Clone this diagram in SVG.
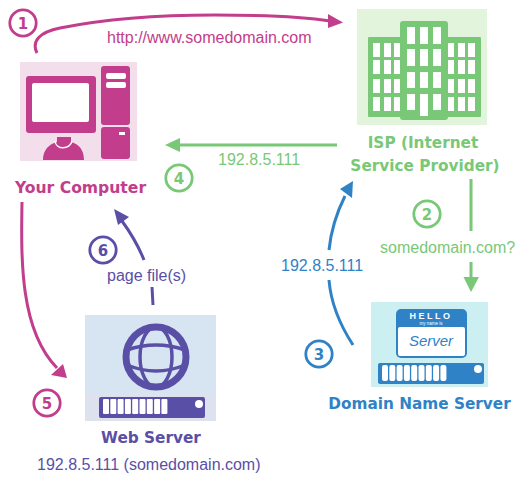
<svg xmlns="http://www.w3.org/2000/svg" width="518" height="489" viewBox="0 0 518 489">
<style>
text{font-family:"Liberation Sans",Arial,sans-serif}
.l{font-size:16px}
.n{font-size:15.300px;font-weight:bold;text-anchor:middle;font-family:"DejaVu Sans",sans-serif}
.d{font-size:15px;font-weight:bold;text-anchor:middle;font-family:"DejaVu Sans",sans-serif}
.mt{fill:#c23d8b}.gt{fill:#79c877}.bt{fill:#2f82c6}.pt{fill:#5a4fa6}
.w{fill:#fff}
.r{fill:#fff;stroke-width:2.800}
</style>
<g id="connectors" fill="none" stroke-width="3">
<path d="M37 53C31 41 40 32 60 28C100 20 150 15 215 15C270 15 305 17 330 21" stroke="#c23d8b"/>
<path d="M343 22.500L328 14V28Z" fill="#c23d8b"/>
<path d="M337 145H178" stroke="#79c877"/>
<path d="M165 145L180 138V152Z" fill="#79c877"/>
<path d="M471 179V231M471 262V279" stroke="#79c877"/>
<path d="M471 292L463.500 277H479Z" fill="#79c877"/>
<path d="M353 345C340 325 331 305 329 280M329 250C331 230 337 212 345 196" stroke="#2f82c6"/>
<path d="M353 181L340 189L352 198Z" fill="#2f82c6"/>
<path d="M22 202C21 260 20 330 57 368" stroke="#c23d8b"/>
<path d="M67 378L51 375L63 364Z" fill="#c23d8b"/>
<path d="M153 305L152 287M144 260C138 245 130 232 122 221" stroke="#5a4fa6"/>
<path d="M114 209L118 225L129 217Z" fill="#5a4fa6"/>
</g>
<g id="computer">
<rect x="20" y="62" width="117" height="99" fill="#f3dfec"/>
<rect x="26" y="76" width="70" height="57" rx="3" class="mt"/>
<rect x="32" y="83" width="57" height="39" rx="2" class="w"/>
<path d="M43 160C43 150 49 144 57 142V137H71V142C79 144 84 150 84 160Z" class="mt"/>
<path d="M55 141C56 150 70 150 72 141" fill="none" stroke="#fff" stroke-width="1.500"/>
<rect x="101" y="66" width="29" height="59" rx="3" class="mt"/>
<rect x="101" y="127" width="29" height="32" rx="3" class="mt"/>
<rect x="106" y="73" width="20" height="6" rx="2" class="w"/>
<rect x="106" y="82" width="20" height="6" rx="2" class="w"/>
<rect x="119" y="132" width="6" height="3" class="w"/>
<text x="80.500" y="193" class="n mt" style="font-size:15.600px">Your Computer</text>
</g>
<g id="isp">
<rect x="357" y="9" width="130" height="116" fill="#e3f4dc"/>
<path d="M369 37H400V24Q400 21 403 21H445Q448 21 448 24V37H480Q481 37 481 38V116Q481 117 480 117H448V117Q448 120 445 120H403Q400 120 400 117V117H369Q368 117 368 116V38Q368 37 369 37Z" class="gt"/>
<g class="w">
<rect x="407" y="27" width="8" height="17"/><rect x="420" y="27" width="8" height="17"/><rect x="433" y="27" width="8" height="17"/>
<rect x="407" y="49" width="8" height="17"/><rect x="420" y="49" width="8" height="17"/><rect x="433" y="49" width="8" height="17"/>
<rect x="407" y="72" width="8" height="16"/><rect x="420" y="72" width="8" height="16"/><rect x="433" y="72" width="8" height="16"/>
<rect x="407" y="94" width="8" height="16"/><rect x="420" y="94" width="8" height="22"/><rect x="433" y="94" width="8" height="16"/>
<rect x="373" y="43" width="7" height="14"/><rect x="384" y="43" width="7" height="14"/><rect x="394" y="43" width="6" height="14"/>
<rect x="373" y="60" width="7" height="14"/><rect x="384" y="60" width="7" height="14"/><rect x="394" y="60" width="6" height="14"/>
<rect x="373" y="79" width="7" height="14"/><rect x="384" y="79" width="7" height="14"/><rect x="394" y="79" width="6" height="14"/>
<rect x="373" y="97" width="7" height="14"/><rect x="384" y="97" width="7" height="14"/><rect x="394" y="97" width="6" height="14"/>
<rect x="448" y="43" width="6" height="14"/><rect x="458" y="43" width="7" height="14"/><rect x="468" y="43" width="7" height="14"/>
<rect x="448" y="60" width="6" height="14"/><rect x="458" y="60" width="7" height="14"/><rect x="468" y="60" width="7" height="14"/>
<rect x="448" y="79" width="6" height="14"/><rect x="458" y="79" width="7" height="14"/><rect x="468" y="79" width="7" height="14"/>
<rect x="448" y="97" width="6" height="14"/><rect x="458" y="97" width="7" height="14"/><rect x="468" y="97" width="7" height="14"/>
</g>
<text x="423" y="148" class="n gt">ISP (Internet</text>
<text x="425" y="171" class="n gt">Service Provider)</text>
</g>
<g id="dns">
<rect x="371" y="302" width="117" height="85" fill="#ccf0f2"/>
<rect x="396" y="309" width="71" height="49" rx="5" class="bt"/>
<rect x="398" y="327" width="67" height="29" rx="2" class="w"/>
<text x="431" y="319" text-anchor="middle" style="font-size:9px;font-weight:bold;letter-spacing:2.500px" class="w">HELLO</text>
<text x="431" y="325" text-anchor="middle" style="font-size:4.500px" class="w">my name is</text>
<text x="431" y="346" text-anchor="middle" style="font-size:15px;font-style:italic" class="bt">Server</text>
<rect x="378" y="363" width="106" height="21" rx="2" class="bt"/>
<g class="w">
<rect x="382" y="365" width="6" height="16" rx="2"/><rect x="389.300" y="365" width="6" height="16" rx="2"/><rect x="396.600" y="365" width="6" height="16" rx="2"/><rect x="403.900" y="365" width="6" height="16" rx="2"/><rect x="411.200" y="365" width="6" height="16" rx="2"/><rect x="418.500" y="365" width="6" height="16" rx="2"/><rect x="425.800" y="365" width="6" height="16" rx="2"/><rect x="433.100" y="365" width="6" height="16" rx="2"/><rect x="440.400" y="365" width="6" height="16" rx="2"/>
<circle cx="478" cy="369" r="4"/>
</g>
<text x="419.500" y="409" class="n bt">Domain Name Server</text>
</g>
<g id="web">
<rect x="85" y="315" width="131" height="106" fill="#d7e4f2"/>
<rect x="85" y="394" width="131" height="27" fill="#dde2ee"/>
<g fill="none" stroke="#5a4fa6">
<circle cx="156" cy="357" r="30" stroke-width="7"/>
<ellipse cx="156" cy="357" rx="16" ry="30" stroke-width="3.500"/>
<path d="M127 350Q156 340 185 350M127 365Q156 377 185 365" stroke-width="3.500"/>
</g>
<rect x="99" y="397" width="106" height="21" rx="2" class="pt"/>
<g class="w">
<rect x="103" y="399" width="6" height="15" rx="1"/><rect x="110.300" y="399" width="6" height="15" rx="1"/><rect x="117.600" y="399" width="6" height="15" rx="1"/><rect x="124.900" y="399" width="6" height="15" rx="1"/><rect x="132.200" y="399" width="6" height="15" rx="1"/><rect x="139.500" y="399" width="6" height="15" rx="1"/><rect x="146.800" y="399" width="6" height="15" rx="1"/><rect x="154.100" y="399" width="6" height="15" rx="1"/><rect x="161.400" y="399" width="6" height="15" rx="1"/>
<circle cx="199" cy="404" r="4"/>
</g>
<text x="151" y="443" class="n pt">Web Server</text>
</g>
<g id="labels" class="l">
<text x="107" y="43" class="mt">http://www.somedomain.com</text>
<text x="218" y="165" class="gt">192.8.5.111</text>
<text x="380" y="253" class="gt">somedomain.com?</text>
<text x="281" y="271" class="bt">192.8.5.111</text>
<text x="107" y="281" class="pt">page file(s)</text>
<text x="37" y="470" class="pt">192.8.5.111 (somedomain.com)</text>
</g>
<g id="badges">
<g id="b1"><circle cx="23" cy="23" r="13.200" class="r" stroke="#c23d8b"/><text x="23" y="28.500" class="d mt">1</text></g>
<g id="b2"><circle cx="427" cy="214" r="13.200" class="r" stroke="#79c877"/><text x="427" y="219.500" class="d gt">2</text></g>
<g id="b3"><circle cx="319" cy="354" r="13.200" class="r" stroke="#2f82c6"/><text x="319" y="359.500" class="d bt">3</text></g>
<g id="b4"><circle cx="179" cy="178" r="13.200" class="r" stroke="#79c877"/><text x="179" y="183.500" class="d gt">4</text></g>
<g id="b5"><circle cx="47" cy="403" r="13.200" class="r" stroke="#c23d8b"/><text x="47" y="408.500" class="d mt">5</text></g>
<g id="b6"><circle cx="103" cy="250" r="13.200" class="r" stroke="#5a4fa6"/><text x="103" y="255.500" class="d pt">6</text></g>
</g>
</svg>
